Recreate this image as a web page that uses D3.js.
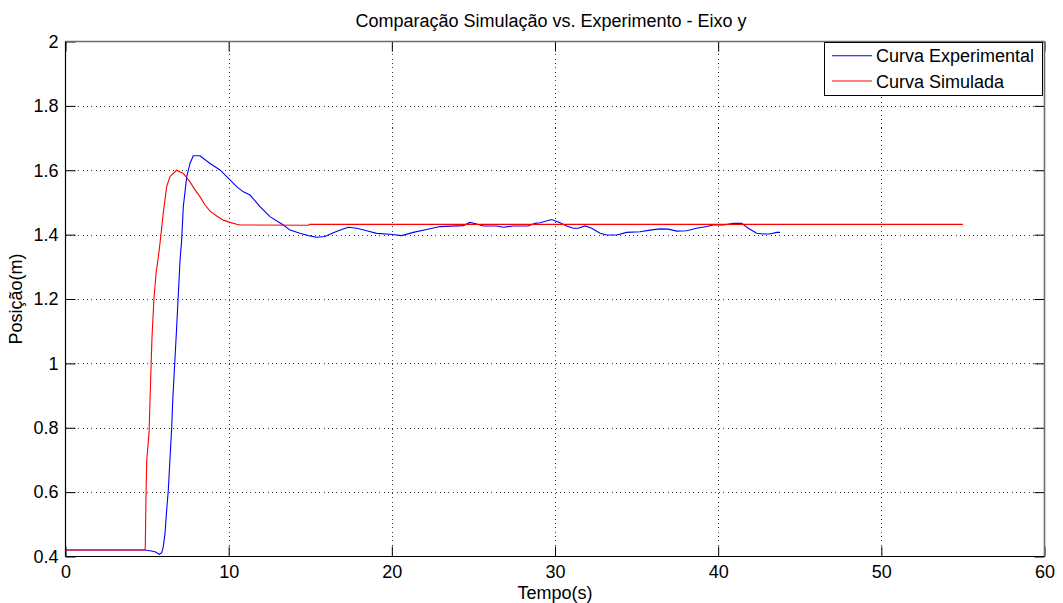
<!DOCTYPE html>
<html>
<head>
<meta charset="utf-8">
<script src="https://cdn.jsdelivr.net/npm/d3@7/dist/d3.min.js"></script>
<style>
  html, body { margin: 0; padding: 0; background: #fff; }
  svg { display: block; font-family: "Liberation Sans", Arial, sans-serif; }
  .tick text { font-size: 18px; fill: #000; }
</style>
</head>
<body>
<svg id="chart" width="1063" height="603"></svg>
<script>
// Experimental response (time in s, position in m)
const expTime = [0, 4.87, 5.18, 5.49, 5.75, 5.90, 5.99, 6.10, 6.20, 6.30, 6.40, 6.51, 6.57, 6.80,
  7.02, 7.12, 7.22, 7.43, 7.63, 7.83, 8.24, 8.86, 9.47, 10.08, 10.49, 10.90, 11.31, 11.92, 12.53,
  13.35, 13.76, 14.37, 14.98, 15.39, 15.90, 16.41, 16.93, 17.33, 17.85, 18.46, 19.07, 19.89, 20.60,
  21.31, 22.13, 22.95, 24.38, 24.79, 25.20, 25.61, 26.43, 26.83, 27.44, 28.36, 28.77, 29.08, 29.80,
  30.31, 30.72, 31.12, 31.43, 31.84, 32.25, 32.76, 33.17, 33.78, 34.39, 35.21, 35.82, 36.43, 36.94,
  37.46, 38.07, 38.68, 39.30, 39.70, 40.31, 40.93, 41.44, 41.85, 42.36, 42.77, 43.17, 43.59, 43.79];
const expPos = [0.42, 0.42, 0.418, 0.415, 0.407, 0.412, 0.430, 0.472, 0.544, 0.606, 0.700, 0.803, 0.883, 1.10,
  1.321, 1.383, 1.487, 1.580, 1.621, 1.645, 1.645, 1.621, 1.601, 1.570, 1.549, 1.533, 1.523, 1.487, 1.456,
  1.430, 1.414, 1.404, 1.396, 1.392, 1.394, 1.406, 1.416, 1.423, 1.420, 1.412, 1.404, 1.401, 1.397,
  1.407, 1.416, 1.425, 1.428, 1.438, 1.433, 1.427, 1.427, 1.423, 1.427, 1.427, 1.435, 1.437, 1.447,
  1.437, 1.427, 1.420, 1.420, 1.427, 1.420, 1.404, 1.399, 1.399, 1.407, 1.409, 1.414, 1.418, 1.417,
  1.411, 1.412, 1.420, 1.425, 1.430, 1.430, 1.435, 1.435, 1.420, 1.404, 1.402, 1.402, 1.407, 1.407];

// Simulated response
const simTime = [0, 4.87, 4.89, 4.93, 4.98, 5.12, 5.18, 5.30, 5.42, 5.55, 5.69, 5.79, 5.99, 6.20, 6.40, 6.81,
  7.22, 7.63, 7.94, 8.24, 8.55, 8.86, 9.27, 9.67, 10.08, 10.49, 10.69, 14.90, 14.95, 55.0];
const simPos = [0.42, 0.42, 0.43, 0.576, 0.700, 0.784, 0.886, 1.08, 1.20, 1.28, 1.33, 1.373, 1.466, 1.549, 1.580, 1.600,
  1.590, 1.564, 1.539, 1.518, 1.492, 1.473, 1.458, 1.445, 1.438, 1.432, 1.430, 1.429, 1.432, 1.432];

const xTicks = [0, 10, 20, 30, 40, 50, 60];
const xTickLabels = ["0", "10", "20", "30", "40", "50", "60"];
const yTicks = [0.4, 0.6, 0.8, 1.0, 1.2, 1.4, 1.6, 1.8, 2.0];
const yTickLabels = ["0.4", "0.6", "0.8", "1", "1.2", "1.4", "1.6", "1.8", "2"];

const seriesNames = ["Curva Experimental", "Curva Simulada"];
const seriesColors = ["#0000ff", "#ff0000"];
const titleText = "Comparação Simulação vs. Experimento - Eixo y";
const xLabel = "Tempo(s)";
const yLabel = "Posição(m)";

const svg = d3.select("#chart");
const plotL = 65.5, plotR = 1044.5, plotT = 41.5, plotB = 556.5;

const x = d3.scaleLinear().domain([0, 60]).range([plotL, plotR]);
const y = d3.scaleLinear().domain([0.4, 2]).range([plotB, plotT]);

// dotted grid
const grid = svg.append("g").attr("stroke", "#3a3a3a").attr("stroke-width", 1)
  .attr("stroke-dasharray", "1,3.3").attr("shape-rendering", "crispEdges");
grid.selectAll("line.gx").data(xTicks.filter(d => d > 0 && d < 60)).join("line")
  .attr("x1", d => Math.round(x(d)) + 0.5).attr("x2", d => Math.round(x(d)) + 0.5)
  .attr("y1", plotT).attr("y2", plotB);
grid.selectAll("line.gy").data(yTicks.filter(d => d > 0.4 && d < 2)).join("line")
  .attr("y1", d => Math.round(y(d)) + 0.5).attr("y2", d => Math.round(y(d)) + 0.5)
  .attr("x1", plotL).attr("x2", plotR);

// axes with inward ticks on all four sides
const axB = d3.axisBottom(x).tickValues(xTicks).tickFormat((d, i) => xTickLabels[i])
  .tickSizeInner(-10).tickSizeOuter(0).tickPadding(8.5);
const axT = d3.axisTop(x).tickValues(xTicks).tickFormat("")
  .tickSizeInner(-10).tickSizeOuter(0);
const axL = d3.axisLeft(y).tickValues(yTicks).tickFormat((d, i) => yTickLabels[i])
  .tickSizeInner(-10).tickSizeOuter(0).tickPadding(7);
const axR = d3.axisRight(y).tickValues(yTicks).tickFormat("")
  .tickSizeInner(-10).tickSizeOuter(0);

svg.append("g").attr("transform", `translate(0,${plotB})`).call(axB);
svg.append("g").attr("transform", `translate(0,${plotT})`).call(axT);
svg.append("g").attr("transform", `translate(${plotL},0)`).call(axL);
svg.append("g").attr("transform", `translate(${plotR},0)`).call(axR);
svg.selectAll(".domain").remove();
svg.selectAll(".tick line").attr("stroke", "#000");
svg.selectAll(".tick text").attr("font-family", "Liberation Sans, Arial, sans-serif");

// box
svg.append("line").attr("x1", plotL).attr("x2", plotR).attr("y1", plotT).attr("y2", plotT)
  .attr("stroke", "#6e6e6e").attr("stroke-width", 1.6);
svg.append("line").attr("x1", plotR).attr("x2", plotR).attr("y1", plotT).attr("y2", plotB)
  .attr("stroke", "#6e6e6e").attr("stroke-width", 1.6);
svg.append("line").attr("x1", plotL).attr("x2", plotL).attr("y1", plotT).attr("y2", plotB)
  .attr("stroke", "#000").attr("stroke-width", 1.2);
svg.append("line").attr("x1", plotL).attr("x2", plotR).attr("y1", plotB).attr("y2", plotB)
  .attr("stroke", "#000").attr("stroke-width", 1.2);

// curves
const line = d3.line().x(d => x(d[0])).y(d => y(d[1]));
const expData = expTime.map((t, i) => [t, expPos[i]]);
const simData = simTime.map((t, i) => [t, simPos[i]]);
svg.append("path").datum(expData).attr("d", line)
  .attr("fill", "none").attr("stroke", seriesColors[0]).attr("stroke-width", 1.1);
svg.append("path").datum(simData).attr("d", line)
  .attr("fill", "none").attr("stroke", seriesColors[1]).attr("stroke-width", 1.1);

// title and axis labels
svg.append("text").attr("x", 551).attr("y", 27).attr("text-anchor", "middle")
  .attr("font-size", 18).text(titleText);
svg.append("text").attr("x", 555).attr("y", 598.5).attr("text-anchor", "middle")
  .attr("font-size", 18).text(xLabel);
svg.append("text").attr("transform", `translate(22,${(plotT + plotB) / 2}) rotate(-90)`)
  .attr("text-anchor", "middle").attr("font-size", 18).text(yLabel);

// legend
const lg = svg.append("g");
lg.append("rect").attr("x", 824.5).attr("y", 42.5).attr("width", 218).attr("height", 53)
  .attr("fill", "#fff").attr("stroke", "#000").attr("stroke-width", 1);
seriesNames.forEach((name, i) => {
  const cy = 55.7 + i * 25.3;
  lg.append("line").attr("x1", 832).attr("x2", 872).attr("y1", cy).attr("y2", cy)
    .attr("stroke", seriesColors[i]).attr("stroke-width", 1.1);
  lg.append("text").attr("x", 876).attr("y", cy + 6.5).attr("font-size", 18).text(name);
});
</script>
</body>
</html>
